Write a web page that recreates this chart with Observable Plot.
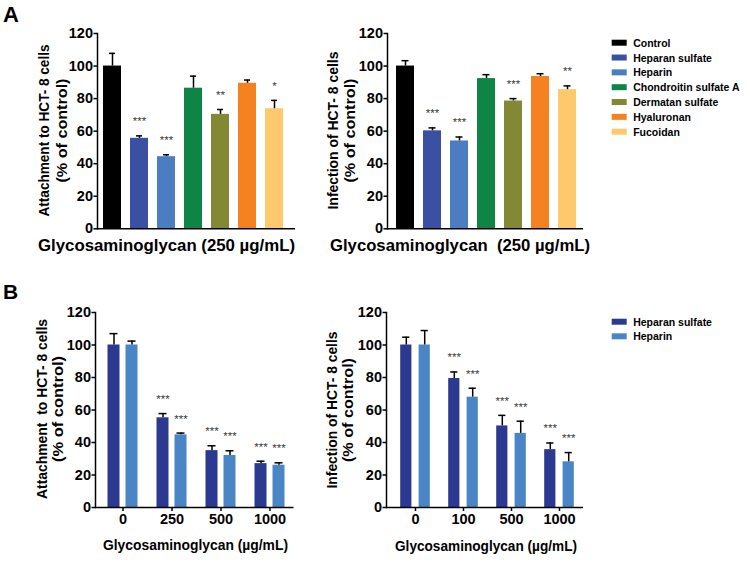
<!DOCTYPE html>
<html><head><meta charset="utf-8">
<script src="https://cdn.jsdelivr.net/npm/d3@7"></script>
<script src="https://cdn.jsdelivr.net/npm/@observablehq/plot@0.6"></script>
<style>
body{margin:0;background:#fff;}
#fig{position:relative;width:750px;height:562px;overflow:hidden;background:#fff;}
#fig > svg{position:absolute;background:transparent;}
</style></head><body><div id="fig"></div>
<script>
// ---------- data ----------
const agents = ["Control","Heparan sulfate","Heparin","Chondroitin sulfate A","Dermatan sulfate","Hyaluronan","Fucoidan"];
const agentColors = ["#000000","#3a51a3","#4a7ec0","#0e8445","#838834","#f58220","#fdc96c"];

const attachA    = [100, 55.6, 44.3, 86.4, 70.3, 89.4, 73.8];
const attachASem = [7.8, 1.5, 1.2, 7.4, 3.0, 2.0, 5.1];
const attachAStars = ["", "***", "***", "", "**", "", "*"];

const infectA    = [100, 60.2, 54.0, 92.3, 78.5, 93.6, 85.5];
const infectASem = [3.3, 1.8, 2.4, 2.4, 1.5, 1.7, 2.3];
const infectAStars = ["", "***", "***", "", "***", "", "**"];

const seriesB = ["Heparan sulfate","Heparin"];
const seriesBColors = ["#2b3990","#4a86c6"];

const attachBGroups = ["0","250","500","1000"];
const attachBHS     = [100, 55.2, 35.0, 27.0];
const attachBHSSem  = [7.0, 2.6, 3.0, 1.5];
const attachBHep    = [100, 44.7, 32.0, 26.0];
const attachBHepSem = [2.4, 1.1, 2.9, 1.5];
const attachBHSStars  = ["", "***", "***", "***"];
const attachBHepStars = ["", "***", "***", "***"];

const infectBGroups = ["0","100","500","1000"];
const infectBHS     = [100, 79.4, 50.2, 35.6];
const infectBHSSem  = [4.8, 4.0, 6.5, 4.1];
const infectBHep    = [100, 67.9, 45.6, 28.1];
const infectBHepSem = [8.9, 5.5, 7.5, 5.7];
const infectBHSStars  = ["", "***", "***", "***"];
const infectBHepStars = ["", "***", "***", "***"];

const yTicks = [0, 20, 40, 60, 80, 100, 120];
const starOffset = 10;

// ---------- helpers ----------
const FONT = '"Liberation Sans", Arial, Helvetica, sans-serif';
const fig = document.getElementById("fig");

function place(svg, left, top) {
  svg.style.left = left + "px";
  svg.style.top = top + "px";
  fig.appendChild(svg);
}

const plotStyle = {fontFamily: FONT, fontWeight: "bold", fontSize: "14.5px", color: "#000", background: "transparent", overflow: "visible"};

function yAxisMarks() {
  return [
    Plot.axisY({ticks: yTicks, tickSize: 3.5, tickFormat: () => "", strokeWidth: 1.5, label: null}),
    Plot.text(yTicks, {y: d => d, text: d => String(d), frameAnchor: "left", textAnchor: "end", dx: -4.5,
      fontSize: 14.5, fontWeight: "bold", fill: "#000"}),
    Plot.frame({anchor: "left", strokeWidth: 1.5}),
    Plot.ruleY([0], {strokeWidth: 1.5})
  ];
}

function panelA(values, sem, stars, m) {
  const data = agents.map((a, i) => ({agent: a, value: values[i], top: values[i] + sem[i], star: stars[i]}));
  return Plot.plot({
    width: 300, height: 250,
    marginLeft: m.left, marginRight: m.right, marginTop: 33, marginBottom: 21.7,
    style: plotStyle,
    x: {domain: agents, paddingInner: m.pi, paddingOuter: m.po, align: m.align, axis: null},
    y: {domain: [0, 120], axis: null},
    color: {domain: agents, range: agentColors},
    marks: [
      Plot.barY(data, {x: "agent", y: "value", fill: "agent"}),
      Plot.ruleX(data, {x: "agent", y1: "value", y2: "top", stroke: "#000", strokeWidth: 1.5}),
      Plot.tickY(data, {x: "agent", y: "top", stroke: "#000", strokeWidth: 1.5, insetLeft: m.cap, insetRight: m.cap}),
      Plot.text(data.filter(d => d.star), {x: "agent", y: d => d.top + starOffset, text: "star", fontSize: 11.5, fontWeight: "normal", fill: "#3a3a3a", dy: 2}),
      ...yAxisMarks()
    ]
  });
}

function panelB(groups, hs, hsSem, hsStars, hep, hepSem, hepStars, m) {
  const data = [];
  groups.forEach((g, i) => {
    data.push({group: g, series: seriesB[0], value: hs[i], top: hs[i] + hsSem[i], star: hsStars[i]});
    data.push({group: g, series: seriesB[1], value: hep[i], top: hep[i] + hepSem[i], star: hepStars[i]});
  });
  const marks = [];
  seriesB.forEach((s, k) => {
    const d = data.filter(r => r.series === s);
    const dx = k === 0 ? -m.off : m.off;
    marks.push(
      Plot.barY(d, {x: "group", y: "value", fill: "series", insetLeft: m.barInset, insetRight: m.barInset, dx}),
      Plot.ruleX(d, {x: "group", y1: "value", y2: "top", stroke: "#000", strokeWidth: 1.5, dx}),
      Plot.tickY(d, {x: "group", y: "top", stroke: "#000", strokeWidth: 1.5, insetLeft: m.capInset, insetRight: m.capInset, dx}),
      Plot.text(d.filter(r => r.star), {x: "group", y: r => r.top + starOffset, text: "star", fontSize: 11.5, fontWeight: "normal", fill: "#3a3a3a", dy: 2, dx})
    );
  });
  return Plot.plot({
    width: 300, height: 270,
    marginLeft: m.left, marginRight: m.right, marginTop: 32, marginBottom: 43,
    style: plotStyle,
    x: {domain: groups, paddingInner: 0, paddingOuter: m.po, align: 1, axis: null},
    y: {domain: [0, 120], axis: null},
    color: {domain: seriesB, range: seriesBColors},
    marks: [
      ...marks,
      Plot.axisX({tickSize: 4, tickFormat: () => "", strokeWidth: 1.5, label: null}),
      Plot.text(groups, {x: d => d, text: d => d, frameAnchor: "bottom", lineAnchor: "top", dy: 6.5,
        fontSize: 14.5, fontWeight: "bold", fill: "#000"}),
      ...yAxisMarks()
    ]
  });
}

// ---------- panels ----------
place(panelA(attachA, attachASem, attachAStars, {left: 97, right: 5, pi: 0.32, po: 0.205, align: 0.325, cap: 6}), 0, 0);
place(panelA(infectA, infectASem, infectAStars, {left: 87, right: 17, pi: 0.35, po: 0.2, align: 0.57, cap: 5.5}), 300, 0);
place(panelB(attachBGroups, attachBHS, attachBHSSem, attachBHSStars, attachBHep, attachBHepSem, attachBHepStars,
  {left: 95, right: 6.5, po: 0.0255, off: 9, barInset: 18.5, capInset: 20.5}), 0, 280);
place(panelB(infectBGroups, infectBHS, infectBHSSem, infectBHSStars, infectBHep, infectBHepSem, infectBHepStars,
  {left: 86, right: 17, po: 0.018, off: 9.2, barInset: 18.4, capInset: 20.4}), 300, 280);

// ---------- overlay text: panel letters, axis titles, legends ----------
const ov = d3.select(fig).append("svg")
  .attr("width", 750).attr("height", 562)
  .style("left", "0px").style("top", "0px")
  .attr("font-family", FONT).attr("font-weight", "bold").attr("fill", "#000");

ov.append("text").attr("x", 3).attr("y", 22).attr("font-size", 22).text("A");
ov.append("text").attr("x", 3).attr("y", 299).attr("font-size", 21).text("B");

function yTitle(lines, xs, yc, lens) {
  lines.forEach((t, i) => {
    ov.append("text")
      .attr("transform", `translate(${xs[i]},${yc}) rotate(-90)`)
      .attr("text-anchor", "middle").attr("dominant-baseline", "central")
      .attr("font-size", 15)
      .attr("textLength", lens[i]).attr("lengthAdjust", "spacingAndGlyphs")
      .style("white-space", "pre")
      .text(t);
  });
}
yTitle(["Attachment to HCT- 8 cells", "(% of control)"], [43.5, 61], 130.5, [172, 104]);
yTitle(["Infection of HCT- 8 cells", "(% of control)"], [332, 349], 130.5, [158, 104]);
yTitle(["Attachment  to HCT- 8 cells", "(% of control)"], [41, 57.5], 409, [180, 106]);
yTitle(["Infection of HCT- 8 cells", "(% of control)"], [331, 347.5], 410, [157, 104]);

function xTitle(t, x0, y, len, size) {
  ov.append("text").attr("x", x0).attr("y", y)
    .attr("font-size", size)
    .attr("textLength", len).attr("lengthAdjust", "spacingAndGlyphs")
    .style("white-space", "pre")
    .text(t);
}
xTitle("Glycosaminoglycan (250 \u00b5g/mL)", 38, 251, 257, 16);
xTitle("Glycosaminoglycan  (250 \u00b5g/mL)", 330, 251, 260, 16);
xTitle("Glycosaminoglycan (\u00b5g/mL)", 103, 550, 185, 15.5);
xTitle("Glycosaminoglycan (\u00b5g/mL)", 395, 551, 182, 15.5);

function legend(names, colors, x, y0, step) {
  names.forEach((n, i) => {
    const y = y0 + i * step;
    ov.append("rect").attr("x", x).attr("y", y - 3).attr("width", 15).attr("height", 6).attr("fill", colors[i]);
    ov.append("text").attr("x", x + 21.5).attr("y", y).attr("dominant-baseline", "central")
      .attr("font-size", 10.5).text(n);
  });
}
legend(agents, agentColors, 611.7, 42.7, 14.83);
legend(seriesB, seriesBColors, 611.7, 321.7, 14.6);
</script>
</body></html>
